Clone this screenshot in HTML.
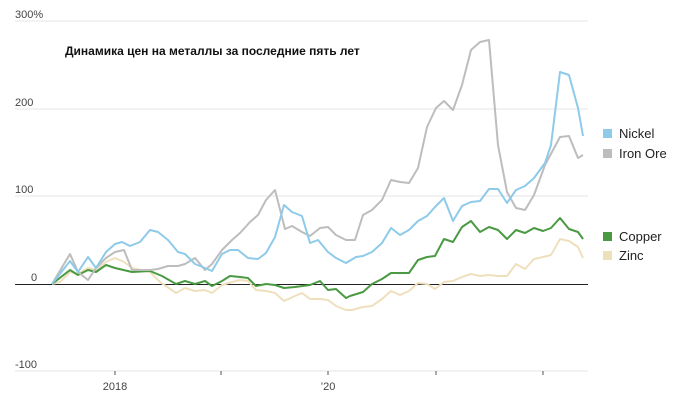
<!DOCTYPE html>
<html><head><meta charset="utf-8"><style>
body{margin:0;background:#fff;}
svg{display:block;font-family:"Liberation Sans",sans-serif;}
</style></head><body>
<svg width="700" height="405" viewBox="0 0 700 405">
<g stroke="#e6e6e6" stroke-width="1">
<line x1="15" y1="21" x2="588" y2="21"/>
<line x1="15" y1="109" x2="588" y2="109"/>
<line x1="15" y1="196" x2="588" y2="196"/>
<line x1="15" y1="371" x2="588" y2="371"/>
</g>
<line x1="15" y1="284.5" x2="588" y2="284.5" stroke="#222" stroke-width="1"/>
<g stroke="#555" stroke-width="1">
<line x1="115" y1="371" x2="115" y2="375"/><line x1="221" y1="371" x2="221" y2="375"/>
<line x1="328" y1="371" x2="328" y2="375"/><line x1="436" y1="371" x2="436" y2="375"/>
<line x1="543" y1="371" x2="543" y2="375"/>
</g>
<g font-size="11" fill="#444">
<text x="15" y="18">300%</text>
<text x="15" y="106">200</text>
<text x="15" y="193">100</text>
<text x="31" y="281">0</text>
<text x="15" y="368">-100</text>
<text x="115" y="390" text-anchor="middle">2018</text>
<text x="328" y="390" text-anchor="middle">’20</text>
</g>
<text x="65" y="55" font-size="12" font-weight="bold" fill="#111" font-family="'Liberation Sans','DejaVu Sans',sans-serif">Динамика цен на металлы за последние пять лет</text>
<g fill="none" stroke-width="2" stroke-linejoin="round">
<polyline stroke="#efe0bd" points="52,284 60,282 70,272 78,274 88,268 96,270 106,262 115,258 124,262 132,268 150,272 160,282 176,293 185,288 195,291 205,290 212,293 222,285 232,282 240,280 248,281 256,290 266,291 275,293 284,301 295,296 302,293 310,299 320,299 328,300 336,306 346,310 352,310 363,307 372,306 382,299 391,291 400,295 409,291 418,283 427,284 435,289 444,282 453,281 462,277 471,274 480,276 489,275 498,276 507,276 516,264 525,269 534,259 543,257 551,255 560,239 569,241 578,247 583,258"/>
<polyline stroke="#4a9a43" points="52,284 70,270 78,275 88,270 96,272 106,265 115,268 132,272 150,271 162,276 176,284 185,281 195,284 205,281 212,286 222,281 230,276 240,277 248,278 256,286 266,284 275,285 284,288 295,287 310,285 320,281 328,290 336,289 346,298 350,296 363,292 372,284 382,279 391,273 400,273 409,273 418,260 427,257 435,256 444,239 453,242 462,227 471,221 480,232 489,227 498,230 507,239 516,230 525,233 534,228 543,231 551,228 560,218 569,229 578,232 583,239"/>
<polyline stroke="#bdbdbd" points="52,284 70,254 78,272 88,280 96,268 106,258 115,252 124,250 132,270 150,270 158,269 168,266 178,266 185,264 195,258 205,270 212,264 222,250 232,240 240,233 250,222 258,215 266,200 275,190 285,229 292,226 302,232 310,236 320,228 328,227 336,235 346,240 355,240 363,215 372,210 382,200 391,180 400,182 409,183 418,168 427,127 436,108 444,101 453,110 462,85 471,50 480,42 489,40 498,145 507,192 516,208 525,210 534,195 545,165 560,137 569,136 578,158 583,155"/>
<polyline stroke="#8ecae9" points="52,284 70,261 78,272 88,257 96,268 106,252 115,244 122,242 130,246 140,242 150,230 158,232 168,240 178,252 185,254 195,264 205,268 212,271 222,254 230,250 238,250 248,258 258,259 266,253 275,237 284,205 292,212 302,216 310,243 318,240 328,252 336,258 346,263 356,257 363,256 372,252 382,243 391,228 400,235 409,230 418,221 427,216 435,207 444,198 453,221 462,206 471,202 480,201 489,189 498,189 507,203 516,190 525,186 534,178 545,163 551,145 560,72 569,75 578,108 583,136"/>
</g>
<g font-size="13" fill="#222">
<rect x="603" y="129" width="9" height="9" fill="#8ecae9"/><text x="619" y="138">Nickel</text>
<rect x="603" y="149" width="9" height="9" fill="#bdbdbd"/><text x="619" y="158">Iron Ore</text>
<rect x="603" y="232" width="9" height="9" fill="#4a9a43"/><text x="619" y="241">Copper</text>
<rect x="603" y="251" width="9" height="9" fill="#efe0bd"/><text x="619" y="260">Zinc</text>
</g>
</svg>
</body></html>
